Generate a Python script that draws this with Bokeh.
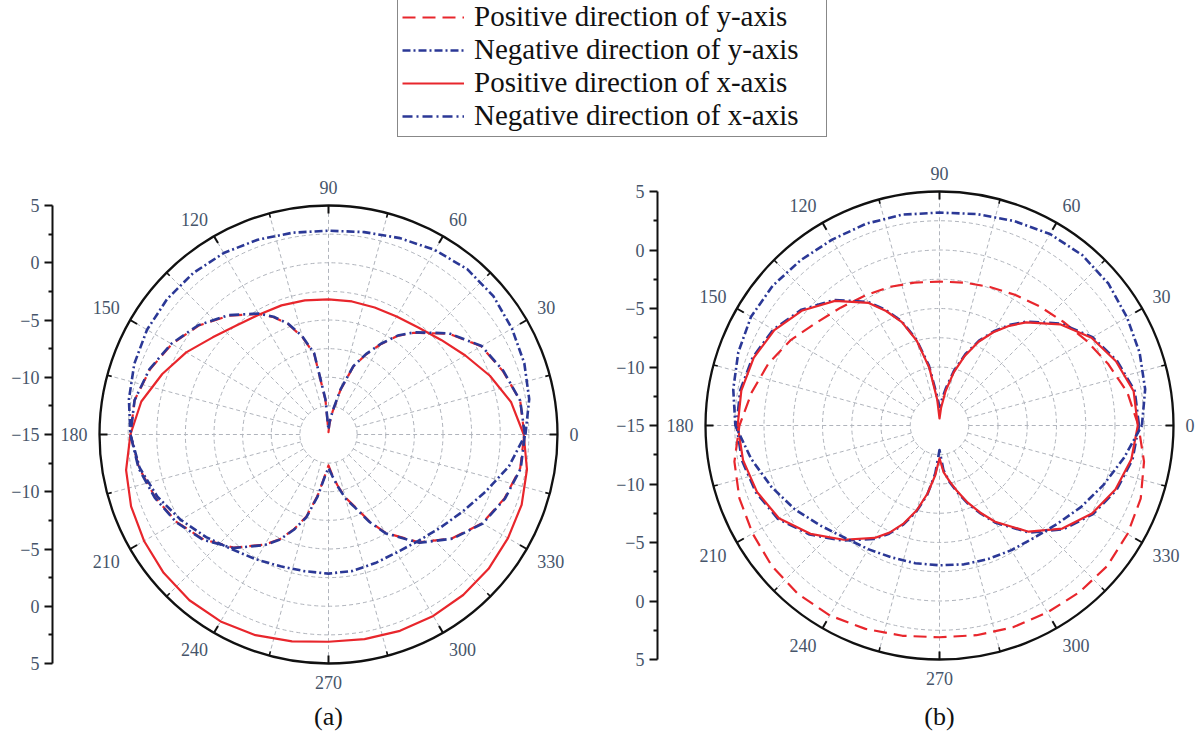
import numpy as np
from bokeh.plotting import figure
from bokeh.layouts import column, row
from bokeh.models import FixedTicker, Legend, LegendItem, Range1d
from bokeh.embed import file_html
from bokeh.resources import INLINE
from bokeh.core.properties import value

# ---------------- data (radiation patterns, dB) ----------------
DB_CENTER = -15.0
DB_OUTER = 5.0
RING_DB = [-12.5, -10.0, -7.5, -5.0, -2.5, 0.0, 2.5]
SPOKE_STEP = 15
ANGLE_TICKS = [0, 30, 60, 90, 120, 150, 180, 210, 240, 270, 300, 330]
ANGLE_LABELS = ["0", "30", "60", "90", "120", "150", "180", "210", "240", "270", "300", "330"]
AXIS_TICKS = [-20, -15, -10, -5, 0, 5, 10, 15, 20]
AXIS_LABELS = ["5", "0", "\u22125", "\u221210", "\u221215", "\u221210", "\u22125", "0", "5"]
AXIS_MINOR = [-17.5, -12.5, -7.5, -2.5, 2.5, 7.5, 12.5, 17.5]

ANG10 = [0, 10, 20, 30, 40, 50, 60, 70, 80, 90, 100, 110, 120, 130, 140, 150, 160, 170,
         180, 190, 200, 210, 220, 230, 240, 250, 260, 270, 280, 290, 300, 310, 320, 330, 340, 350]
ANG_LOBE = [0, 10, 20, 30, 40, 50, 55, 60, 65, 70, 75, 80, 85, 90, 95, 100, 105, 110, 115, 120,
            130, 140, 150, 160, 170, 180, 190, 200, 210, 220, 230, 240, 245, 250, 255, 260, 265,
            270, 275, 280, 285, 290, 295, 300, 310, 320, 330, 340, 350]

# panel (a)
a_pos_y = [2.1, 2.0, 1.2, 0.4, -1.3, -3.4, -4.5, -5.9, -7.3, -8.7, -11.0, -13.0, -14.1, -14.8,
           -12.0, -7.9, -6.2, -4.75, -3.7, -2.85, -1.45, -0.2, 0.8, 1.6, 2.2, 2.3, 1.8, 1.1, 0.3,
           -0.75, -2.1, -3.9, -4.9, -6.2, -7.6, -9.6, -11.4, -12.3, -11.5, -10.5, -9.3, -8.3,
           -6.7, -5.1, -2.7, -0.9, 0.5, 1.35, 2.0]
a_neg_x = [2.15, 2.0, 1.25, 0.45, -1.25, -3.35, -4.45, -5.85, -7.25, -8.65, -10.9, -12.9, -13.9,
           -14.6, -11.9, -7.8, -6.1, -4.7, -3.65, -2.8, -1.4, -0.15, 0.85, 1.65, 2.2, 2.3, 1.85,
           1.15, 0.35, -0.7, -2.05, -3.85, -4.85, -6.15, -7.5, -9.5, -11.3, -12.1, -11.4, -10.4,
           -9.2, -8.2, -6.6, -5.05, -2.65, -0.85, 0.55, 1.4, 2.05]
a_neg_y = [2.2, 2.8, 3.2, 3.5, 3.8, 3.85, 3.6, 3.25, 2.95, 2.8, 2.9, 3.1, 3.3, 3.4, 3.4, 3.3, 3.05,
           2.7, 2.3, 1.75, 0.9, -0.1, -1.05, -1.9, -2.4, -2.75, -2.88, -2.85, -2.9, -3.05, -3.1,
           -2.85, -2.3, -1.5, -0.4, 1.0]
a_pos_x = [2.05, 1.2, 0.0, -1.2, -2.15, -2.8, -3.1, -3.2, -3.2, -3.2, -3.1, -3.0, -2.9, -2.55,
           -1.8, -0.65, 0.45, 1.6, 2.3, 2.95, 3.35, 3.6, 3.8, 3.9, 3.85, 3.65, 3.35, 3.1, 3.15,
           3.25, 3.3, 3.3, 3.25, 3.1, 2.95, 2.6]

# panel (b)
b_pos_y = [2.0, 1.3, 0.35, -0.5, -1.2, -1.7, -2.1, -2.4, -2.6, -2.7, -2.6, -2.4, -2.2, -1.85,
           -1.3, -0.35, 0.55, 1.3, 2.1, 2.8, 3.2, 3.45, 3.7, 3.8, 3.75, 3.5, 3.25, 3.1, 3.2, 3.35,
           3.45, 3.6, 3.7, 3.55, 3.3, 2.75]
b_neg_y = [2.3, 2.85, 3.2, 3.5, 3.85, 4.0, 3.9, 3.6, 3.35, 3.2, 3.3, 3.35, 3.35, 3.45, 3.6, 3.6,
           3.3, 2.9, 2.45, 1.35, 0.3, -0.7, -1.7, -2.45, -2.8, -3.0, -3.05, -3.05, -2.95, -2.85,
           -2.7, -2.45, -1.9, -1.05, -0.1, 1.0]
b_pos_x = [1.95, 1.85, 1.05, 0.0, -1.55, -3.5, -4.6, -5.8, -7.1, -8.65, -10.3, -12.0, -13.5,
           -14.4, -12.8, -10.0, -7.5, -5.6, -4.2, -2.9, -1.1, 0.3, 1.3, 1.9, 2.2, 2.25, 2.05, 1.6,
           0.85, -0.6, -2.25, -3.9, -4.9, -6.1, -7.5, -9.1, -10.7, -12.2, -11.0, -10.2, -9.2,
           -8.0, -6.8, -5.5, -3.15, -1.3, 0.05, 1.0, 1.65]
b_neg_x = [2.05, 1.95, 1.15, 0.1, -1.45, -3.4, -4.5, -5.7, -7.0, -8.5, -10.1, -11.7, -12.8,
           -13.4, -12.4, -9.8, -7.4, -5.5, -4.1, -2.8, -1.0, 0.4, 1.4, 2.0, 2.3, 2.35, 2.15, 1.7,
           0.95, -0.5, -2.15, -3.8, -4.8, -6.0, -7.4, -9.0, -10.9, -12.9, -11.2, -10.1, -9.1,
           -7.9, -6.7, -5.4, -3.05, -1.2, 0.15, 1.1, 1.75]

LEGEND_LABELS = ["Positive direction of y-axis", "Negative direction of y-axis",
                 "Positive direction of x-axis", "Negative direction of x-axis"]

# ---------------- styles ----------------
RED = "#e8262c"
BLUE = "#2b3896"
GRID = "#b0b4bc"
TICK_TXT = "#46556a"
SERIF = "Liberation Serif"
DASH_RED = "13 7"
DASH_NEGY = "8 3 2 3"
DASH_NEGX = "10 4 2 4"
W_RED = 2.2
W_BLUE = 2.6

PAGE_W, PAGE_H = 1196, 734
TOP_H = 150


def to_xy(angles, dbs):
    th = np.deg2rad(np.append(np.asarray(angles, float), angles[0]))
    r = np.append(np.asarray(dbs, float), dbs[0]) - DB_CENTER
    return r * np.cos(th), r * np.sin(th)


def panel(fig_x0, fig_w, axis_px, cx, cy, radius_px, series, caption):
    s = radius_px / (DB_OUTER - DB_CENTER)
    fig_x1 = fig_x0 + fig_w
    x_range = Range1d((axis_px - cx) / s, (fig_x1 - cx) / s)
    y_range = Range1d(-(PAGE_H - cy) / s, (cy - TOP_H) / s)
    p = figure(width=fig_w, height=PAGE_H - TOP_H, x_range=x_range, y_range=y_range,
               x_axis_type=None, toolbar_location=None, output_backend="svg",
               min_border=0, min_border_left=axis_px - fig_x0, outline_line_color=None,
               background_fill_color="white", border_fill_color="white")
    p.grid.visible = False
    ax = p.yaxis[0]
    rmax = DB_OUTER - DB_CENTER
    ax.bounds = (-rmax, rmax)
    ax.ticker = FixedTicker(ticks=AXIS_TICKS, minor_ticks=AXIS_MINOR)
    ax.major_label_overrides = {t: l for t, l in zip(AXIS_TICKS, AXIS_LABELS)}
    ax.axis_line_width = 2
    ax.axis_line_color = "#111111"
    ax.major_tick_line_width = 2
    ax.major_tick_line_color = "#111111"
    ax.minor_tick_line_width = 2
    ax.minor_tick_line_color = "#111111"
    ax.major_tick_out = 8
    ax.major_tick_in = 0
    ax.minor_tick_out = 4
    ax.minor_tick_in = 0
    ax.major_label_standoff = 5
    ax.major_label_text_font = SERIF
    ax.major_label_text_font_size = "18px"
    ax.major_label_text_color = TICK_TXT

    # polar grid
    rings = [d - DB_CENTER for d in RING_DB]
    p.circle(x=[0] * len(rings), y=[0] * len(rings), radius=rings, fill_color=None,
             line_color=GRID, line_dash="4 3", line_width=1)
    sp = np.deg2rad(np.arange(0, 360, SPOKE_STEP))
    r_in = RING_DB[0] - DB_CENTER
    p.segment(x0=r_in * np.cos(sp), y0=r_in * np.sin(sp), x1=rmax * np.cos(sp),
              y1=rmax * np.sin(sp), line_color=GRID, line_dash="4 3", line_width=1)
    # outer ring and its ticks
    p.circle(x=[0], y=[0], radius=[rmax], fill_color=None, line_color="#111111", line_width=2.3)
    maj = np.deg2rad(np.array(ANGLE_TICKS, float))
    mnr = maj + np.deg2rad(15)
    lm, ln = 8 / s, 4.5 / s
    p.segment(x0=rmax * np.cos(maj), y0=rmax * np.sin(maj), x1=(rmax - lm) * np.cos(maj),
              y1=(rmax - lm) * np.sin(maj), line_color="#111111", line_width=2)
    p.segment(x0=rmax * np.cos(mnr), y0=rmax * np.sin(mnr), x1=(rmax - ln) * np.cos(mnr),
              y1=(rmax - ln) * np.sin(mnr), line_color="#111111", line_width=1.6)

    # angle labels, anchored just outside the ring
    rl = (radius_px + 12) / s
    for ang, lab in zip(ANGLE_TICKS, ANGLE_LABELS):
        t = np.deg2rad(ang)
        c, sn = np.cos(t), np.sin(t)
        align = "left" if c > 0.1 else ("right" if c < -0.1 else "center")
        base = "bottom" if sn > 0.1 else ("top" if sn < -0.1 else "middle")
        p.text(x=[rl * c], y=[rl * sn], text=[lab], text_font=value(SERIF),
               text_font_size="18px", text_color=TICK_TXT, text_align=align,
               text_baseline=base)

    for angs, dbs, color, dash, lw in series:
        x, y = to_xy(angs, dbs)
        p.line(x, y, line_color=color, line_dash=dash, line_width=lw, line_join="round")

    p.text(x=[0], y=[-(716 - cy) / s], text=[caption], text_font=value(SERIF),
           text_font_size="26px", text_color="#111111", text_align="center",
           text_baseline="middle")
    return p


pa = panel(0, 598, 52, 328, 434, 229,
           [(ANG10, a_pos_x, RED, "solid", W_RED),
            (ANG_LOBE, a_pos_y, RED, DASH_RED, W_RED),
            (ANG_LOBE, a_neg_x, BLUE, DASH_NEGX, W_BLUE),
            (ANG10, a_neg_y, BLUE, DASH_NEGY, W_BLUE)], "(a)")
pb = panel(598, 598, 657, 939, 425, 234,
           [(ANG10, b_pos_y, RED, DASH_RED, W_RED),
            (ANG_LOBE, b_neg_x, BLUE, DASH_NEGX, W_BLUE),
            (ANG_LOBE, b_pos_x, RED, "solid", W_RED),
            (ANG10, b_neg_y, BLUE, DASH_NEGY, W_BLUE)], "(b)")

# legend strip (the sample renderers sit outside the visible range; only the legend shows)
leg = figure(width=PAGE_W, height=TOP_H, x_range=Range1d(0, 1), y_range=Range1d(0, 1),
             x_axis_type=None, y_axis_type=None, toolbar_location=None, output_backend="svg",
             min_border=0, outline_line_color=None)
styles = [(RED, DASH_RED, W_RED), (BLUE, DASH_NEGY, W_BLUE), (RED, "solid", W_RED),
          (BLUE, DASH_NEGX, W_BLUE)]
items = []
for lab, (c, d, w) in zip(LEGEND_LABELS, styles):
    r = leg.line(x=[5, 6], y=[5, 6], line_color=c, line_dash=d, line_width=w)
    items.append(LegendItem(label=lab, renderers=[r]))
legend = Legend(items=items, location=(397, 13), margin=0, padding=4, spacing=0,
                glyph_width=62, glyph_height=30, label_height=30, label_standoff=10,
                label_width=348, label_text_font=SERIF, label_text_font_size="29px",
                label_text_color="#111111", border_line_color="#111111", border_line_width=1.2,
                background_fill_color="white", background_fill_alpha=1.0)
leg.add_layout(legend)

layout = column(leg, row(pa, pb, spacing=0), spacing=0)
open("out.html", "w").write(file_html(layout, INLINE))
